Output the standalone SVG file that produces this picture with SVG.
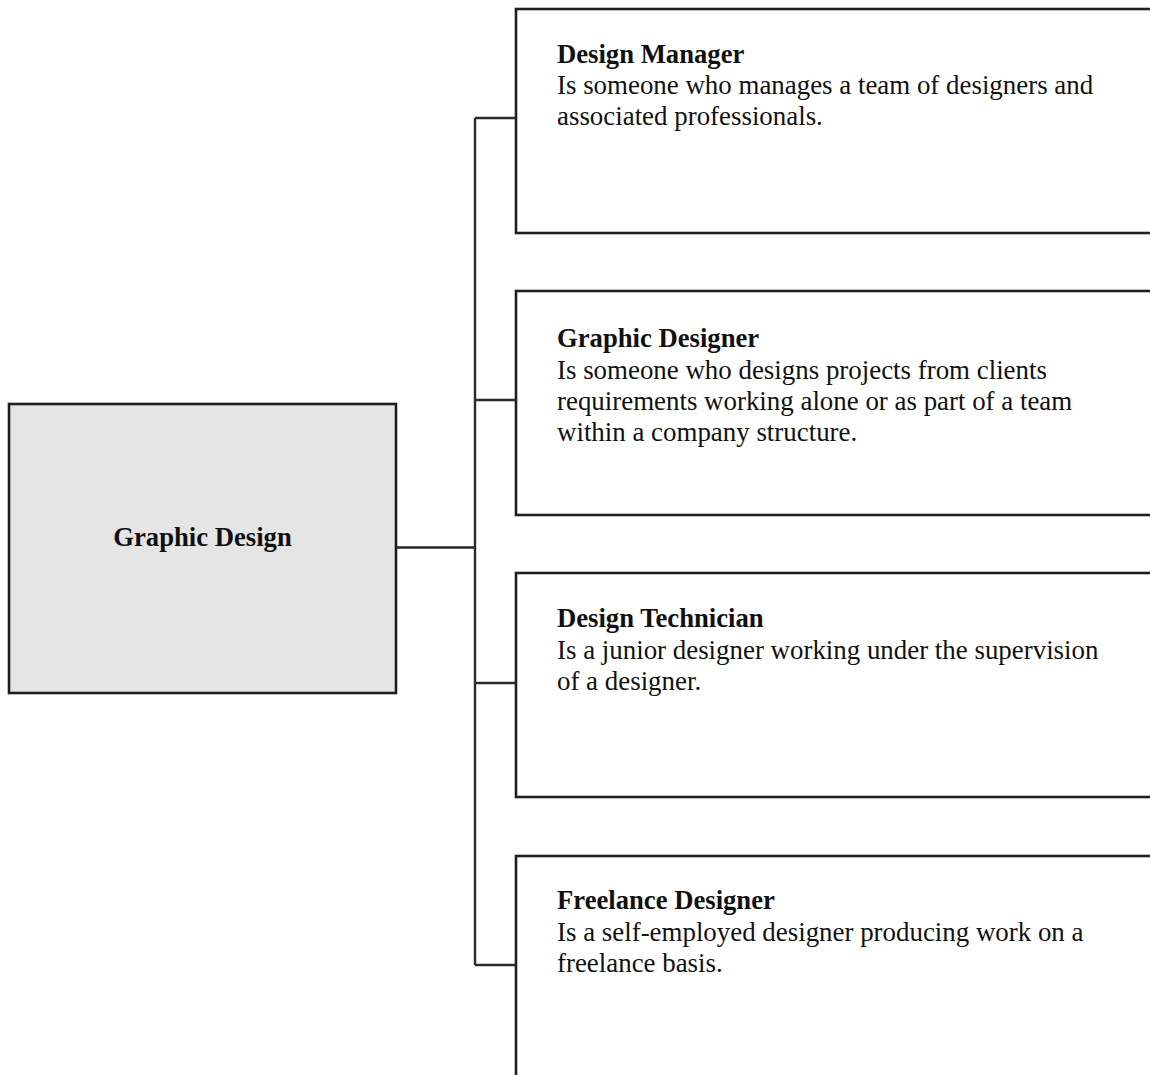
<svg xmlns="http://www.w3.org/2000/svg" width="1150" height="1075" viewBox="0 0 1150 1075">
<style>
.box{fill:#ffffff;stroke:#1e1e1e;stroke-width:2.6}
.root{fill:#e5e5e5;stroke:#1e1e1e;stroke-width:2.6}
.conn{fill:none;stroke:#2a2a2a;stroke-width:2.4}
.t{font-family:"Liberation Serif","Times New Roman",serif;font-size:26.9px;fill:#111}
.b{font-weight:bold;font-size:26.67px}
</style>
<rect width="1150" height="1075" fill="#ffffff"/>
<g id="connectors">
<path class="conn" d="M396,547.5 H475"/>
<path class="conn" d="M475,118 V965"/>
<path class="conn" d="M475,118 H516"/>
<path class="conn" d="M475,400 H516"/>
<path class="conn" d="M475,683 H516"/>
<path class="conn" d="M475,965 H516"/>
</g>
<g id="node-graphic-design">
<rect class="root" x="9" y="404" width="387" height="289"/>
<text class="t b" x="202.5" y="546" text-anchor="middle">Graphic Design</text>
</g>
<g id="node-design-manager">
<rect class="box" x="516" y="9" width="660" height="224"/>
<text class="t" x="557"><tspan class="b" x="557" y="63">Design Manager</tspan><tspan x="557" y="94">Is someone who manages a team of designers and</tspan><tspan x="557" y="125">associated professionals.</tspan></text>
</g>
<g id="node-graphic-designer">
<rect class="box" x="516" y="291" width="660" height="224"/>
<text class="t" x="557"><tspan class="b" x="557" y="347">Graphic Designer</tspan><tspan x="557" y="379">Is someone who designs projects from clients</tspan><tspan x="557" y="410">requirements working alone or as part of a team</tspan><tspan x="557" y="441">within a company structure.</tspan></text>
</g>
<g id="node-design-technician">
<rect class="box" x="516" y="573" width="660" height="224"/>
<text class="t" x="557"><tspan class="b" x="557" y="627">Design Technician</tspan><tspan x="557" y="659">Is a junior designer working under the supervision</tspan><tspan x="557" y="690">of a designer.</tspan></text>
</g>
<g id="node-freelance-designer">
<rect class="box" x="516" y="856" width="660" height="240"/>
<text class="t" x="557"><tspan class="b" x="557" y="909">Freelance Designer</tspan><tspan x="557" y="941">Is a self-employed designer producing work on a</tspan><tspan x="557" y="972">freelance basis.</tspan></text>
</g>
</svg>
